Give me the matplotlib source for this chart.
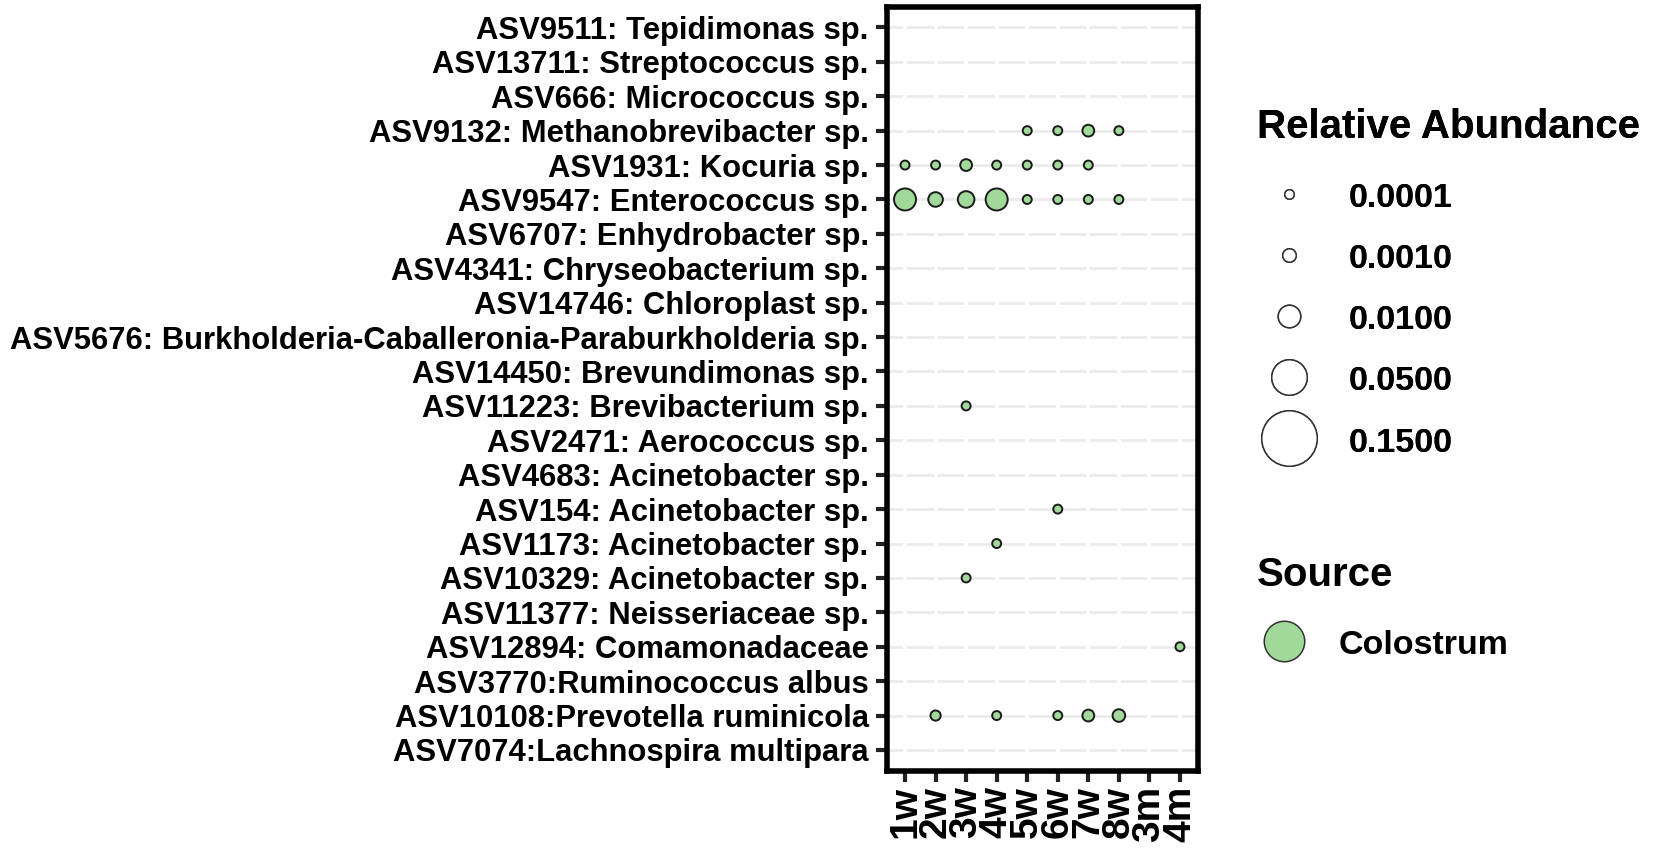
import numpy as np
import matplotlib
matplotlib.use("Agg")
import matplotlib.pyplot as plt
from matplotlib.lines import Line2D

plt.rcParams['font.family'] = ['Liberation Sans', 'DejaVu Sans']
plt.rcParams['font.weight'] = 'bold'

# ---------------- data ----------------
species = [
    "ASV9511: Tepidimonas sp.",
    "ASV13711: Streptococcus sp.",
    "ASV666: Micrococcus sp.",
    "ASV9132: Methanobrevibacter sp.",
    "ASV1931: Kocuria sp.",
    "ASV9547: Enterococcus sp.",
    "ASV6707: Enhydrobacter sp.",
    "ASV4341: Chryseobacterium sp.",
    "ASV14746: Chloroplast sp.",
    "ASV5676: Burkholderia-Caballeronia-Paraburkholderia sp.",
    "ASV14450: Brevundimonas sp.",
    "ASV11223: Brevibacterium sp.",
    "ASV2471: Aerococcus sp.",
    "ASV4683: Acinetobacter sp.",
    "ASV154: Acinetobacter sp.",
    "ASV1173: Acinetobacter sp.",
    "ASV10329: Acinetobacter sp.",
    "ASV11377: Neisseriaceae sp.",
    "ASV12894: Comamonadaceae",
    "ASV3770:Ruminococcus albus",
    "ASV10108:Prevotella ruminicola",
    "ASV7074:Lachnospira multipara",
]
times = ["1w", "2w", "3w", "4w", "5w", "6w", "7w", "8w", "3m", "4m"]

obs_species = (
    ["ASV9132: Methanobrevibacter sp."] * 4
    + ["ASV1931: Kocuria sp."] * 7
    + ["ASV9547: Enterococcus sp."] * 8
    + ["ASV11223: Brevibacterium sp."]
    + ["ASV154: Acinetobacter sp."]
    + ["ASV1173: Acinetobacter sp."]
    + ["ASV10329: Acinetobacter sp."]
    + ["ASV12894: Comamonadaceae"]
    + ["ASV10108:Prevotella ruminicola"] * 5
)
obs_time = (
    ["5w", "6w", "7w", "8w"]
    + ["1w", "2w", "3w", "4w", "5w", "6w", "7w"]
    + ["1w", "2w", "3w", "4w", "5w", "6w", "7w", "8w"]
    + ["3w"]
    + ["6w"]
    + ["4w"]
    + ["3w"]
    + ["4m"]
    + ["2w", "4w", "6w", "7w", "8w"]
)
obs_abund = (
    [0.0001, 0.0001, 0.0005, 0.0001]
    + [0.0001, 0.0001, 0.0005, 0.0001, 0.0001, 0.0001, 0.0001]
    + [0.010, 0.0015, 0.0025, 0.010, 0.0001, 0.0001, 0.0001, 0.0001]
    + [0.0001]
    + [0.0001]
    + [0.0001]
    + [0.0001]
    + [0.0001]
    + [0.0002, 0.0001, 0.0001, 0.0005, 0.0008]
)
size_breaks = [0.0001, 0.0010, 0.0100, 0.0500, 0.1500]
source_labels = ["Colostrum"]

# ---------------- style ----------------
DPI = 100
PX = 72.0 / DPI  # points per pixel
size_diam_px = [11, 15, 24, 37, 57]  # size scale range (ink diameter, px)
FILL = "#A1D99B"


def diam_pt(v, edge_px):
    d = np.interp(np.log10(v), np.log10(size_breaks), size_diam_px)
    return (d - edge_px) * PX


fig = plt.figure(figsize=(16.54, 8.50), dpi=DPI)
W, H = 1654.0, 850.0
x0, x1 = 886.7, 1198.3
y0, y1 = 6.8, 770.6
ax = fig.add_axes([x0 / W, 1 - y1 / H, (x1 - x0) / W, (y1 - y0) / H])

xi = [times.index(t) for t in obs_time]
yi = [species.index(s) for s in obs_species]
sizes = [diam_pt(v, 2.0) ** 2 for v in obs_abund]
ax.scatter(xi, yi, s=sizes, c=FILL, edgecolors="#1a1a1a", linewidths=1.4, zorder=3)

ax.set_xlim(-0.6, len(times) - 0.4)
ax.set_ylim(len(species) - 0.4, -0.6)
ax.set_xticks(range(len(times)))
ax.set_xticklabels(times, rotation=90, fontsize=28, fontweight="bold")
ax.set_yticks(range(len(species)))
ax.set_yticklabels(species, fontsize=22.3, fontweight="bold")

# grid: light grey horizontal lines, interrupted by white vertical lines
ax.set_axisbelow(True)
ax.yaxis.grid(True, color="#ebebeb", linewidth=2.0)
ax.vlines(range(len(times)), -0.6, len(species) - 0.4, colors="white",
          linewidth=2.6, zorder=1)

for sp in ax.spines.values():
    sp.set_linewidth(4.0)
    sp.set_color("black")
    sp.set_zorder(5)
ax.tick_params(axis="both", length=8, width=3.0, color="#222222")
ax.tick_params(axis="y", pad=5)
ax.tick_params(axis="x", pad=3)

# ---------------- legends ----------------
size_handles = [
    Line2D([], [], linestyle="none", marker="o", markersize=diam_pt(v, 1.5),
           markerfacecolor="white", markeredgecolor="#333333", markeredgewidth=1.1)
    for v in size_breaks
]
size_labels = [f"{v:.4f}" for v in size_breaks]
leg1 = fig.legend(size_handles, size_labels, title="Relative Abundance",
                  loc="upper left", bbox_to_anchor=(1257 / W, 1 - 108.5 / H),
                  frameon=False, prop={"size": 24.5, "weight": "bold"},
                  title_fontproperties={"size": 29, "weight": "bold"},
                  alignment="left", handlelength=1.9, handletextpad=0.8,
                  labelspacing=0.80, borderpad=0, borderaxespad=0, handleheight=1.0)
leg1._legend_box.sep = 24.3
fig.add_artist(leg1)

src_handles = [
    Line2D([], [], linestyle="none", marker="o", markersize=(42 - 1.5) * PX,
           markerfacecolor=FILL, markeredgecolor="#333333", markeredgewidth=1.1)
    for _ in source_labels
]
leg2 = fig.legend(src_handles, source_labels, title="Source",
                  loc="upper left", bbox_to_anchor=(1257 / W, 1 - 556.5 / H),
                  frameon=False, prop={"size": 24.5, "weight": "bold"},
                  title_fontproperties={"size": 29, "weight": "bold"},
                  alignment="left", handlelength=1.6, handletextpad=0.8,
                  labelspacing=0.80, borderpad=0, borderaxespad=0, handleheight=1.0)
leg2._legend_box.sep = 23.5

fig.savefig("out.png", dpi=DPI, facecolor="white")
